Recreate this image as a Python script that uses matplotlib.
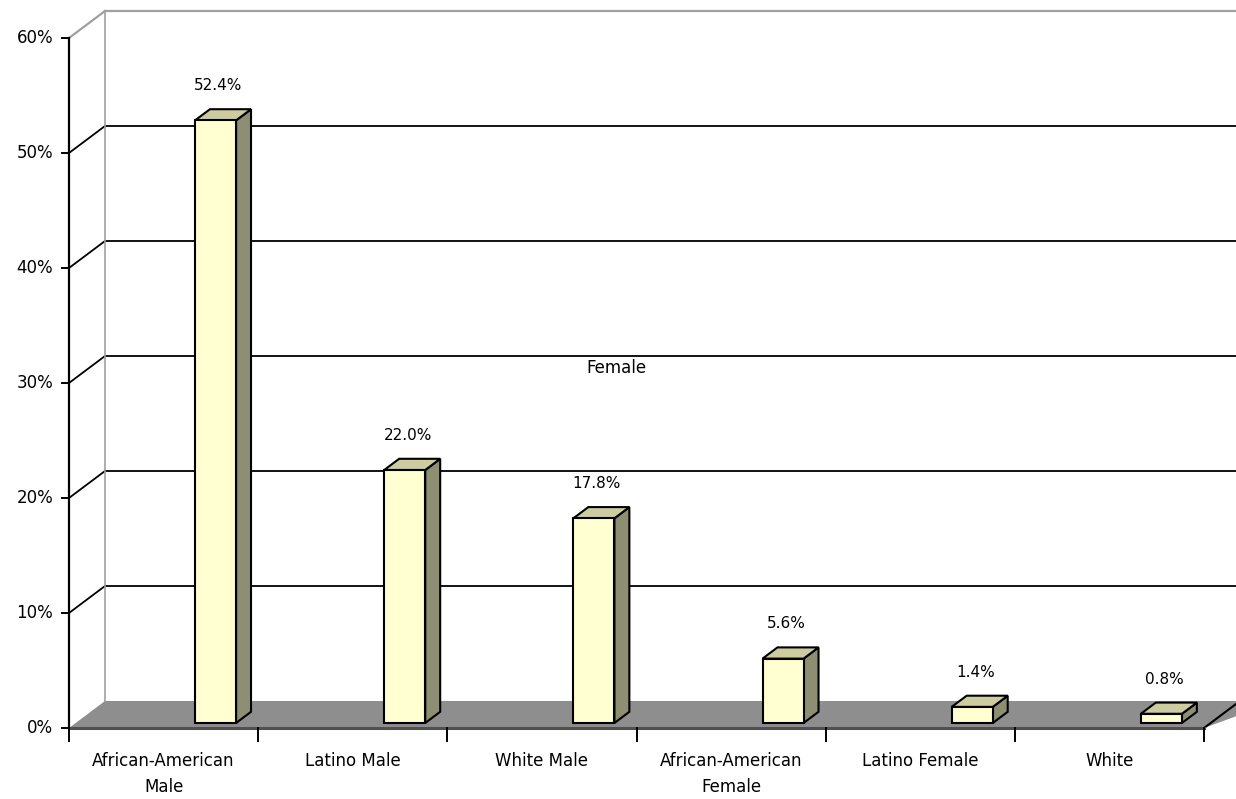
import matplotlib
matplotlib.use("Agg")
import matplotlib.pyplot as plt
from matplotlib.patches import Polygon

# ---- data ----
categories = ["African-American\nMale", "Latino Male", "White Male",
              "African-American\nFemale", "Latino Female", "White"]
values = [52.4, 22.0, 17.8, 5.6, 1.4, 0.8]
value_labels = ["52.4%", "22.0%", "17.8%", "5.6%", "1.4%", "0.8%"]
y_ticks = [0, 10, 20, 30, 40, 50, 60]
y_tick_labels = ["0%", "10%", "20%", "30%", "40%", "50%", "60%"]
stray_label = "Female"

# ---- geometry (data units: x = category slot, y = percent) ----
W, H, DPI = 12.36, 7.99, 100
PX_X = 189.17   # px per category
PX_Y = 11.5     # px per percent
X0_PX, Y0_PX = 69, 728
DX = 36 / PX_X  # depth offset in x
DY = 27 / PX_Y  # depth offset in y
D0, D1 = 0.185, 0.60   # bar front/back depth
BAR_L, BAR_R = 0.631, 0.848

def px_x(p):
    return p / PX_X

def px_y(p):
    return p / PX_Y

def proj(x, y, d):
    return (x + d * DX, y + d * DY)

fig = plt.figure(figsize=(W, H), dpi=DPI)
ax = fig.add_axes([0, 0, 1, 1])
ax.set_xlim(-X0_PX / PX_X, (1236 - X0_PX) / PX_X)
ax.set_ylim(-(799 - Y0_PX) / PX_Y, Y0_PX / PX_Y)
ax.axis("off")

n = len(categories)
ymax = y_ticks[-1]
FONT = dict(family="DejaVu Sans", fontsize=12, color="black")
VFONT = dict(family="DejaVu Sans", fontsize=11, color="black")

# back wall gridlines
for v in y_ticks[1:]:
    col = "#a0a0a0" if v == ymax else "black"
    lw = 1.6 if v == ymax else 1.3
    a = proj(0, v, 1)
    b = proj(n + 0.5, v, 1)
    ax.plot([a[0], b[0]], [a[1], b[1]], color=col, lw=lw, zorder=1)
    c = proj(0, v, 0)
    ax.plot([c[0], a[0]], [c[1], a[1]], color=col, lw=lw, zorder=1)

# left wall vertical
a = proj(0, 0, 1); b = proj(0, ymax, 1)
ax.plot([a[0], b[0]], [a[1], b[1]], color="#a0a0a0", lw=1.2, zorder=1)

# floor
floor = Polygon([proj(0, 0, 0), proj(n, 0, 0), proj(n + 0.2, 0, 1), proj(0, 0, 1)],
                closed=True, facecolor="#8e8e8e", edgecolor="none", zorder=2)
ax.add_patch(floor)
a = proj(n, 0, 0); b = proj(n, 0, 1)
ax.plot([a[0], b[0]], [a[1], b[1]], color="black", lw=1.5, zorder=3)

# front y axis
ax.plot([0, 0], [0, ymax], color="black", lw=1.6, zorder=5)
for v, lab in zip(y_ticks, y_tick_labels):
    ax.plot([-px_x(7), 0], [v, v], color="black", lw=1.4, zorder=5)
    ax.text(-px_x(16), v, lab, ha="right", va="center", **FONT)

# category axis
ax.plot([0, n], [0, 0], color="#505050", lw=2.2, zorder=5)
for i in range(n + 1):
    ax.plot([i, i], [0, -px_y(13)], color="black", lw=1.4, zorder=5)
for i, lab in enumerate(categories):
    ax.text(i + 0.5, -px_y(24), lab, ha="center", va="top",
            linespacing=1.6, **FONT)

# bars
for i, v in enumerate(values):
    xl, xr = i + BAR_L, i + BAR_R
    front = [proj(xl, 0, D0), proj(xr, 0, D0), proj(xr, v, D0), proj(xl, v, D0)]
    top = [proj(xl, v, D0), proj(xr, v, D0), proj(xr, v, D1), proj(xl, v, D1)]
    side = [proj(xr, 0, D0), proj(xr, 0, D1), proj(xr, v, D1), proj(xr, v, D0)]
    for pts, fc in ((side, "#8e8e72"), (top, "#cccca0"), (front, "#ffffd2")):
        ax.add_patch(Polygon(pts, closed=True, facecolor=fc, edgecolor="black",
                             lw=1.5, joinstyle="miter", zorder=6))
    cx, _ = proj((xl + xr) / 2, v, D0)
    _, cy = proj(xl, v, D1)
    ax.text(cx + px_x(3), cy + px_y(16), value_labels[i], ha="center",
            va="bottom", zorder=7, **VFONT)

# stray label
ax.text(px_x(616 - X0_PX), px_y(Y0_PX - 368), stray_label, ha="center",
        va="center", **FONT)

fig.savefig("out.png", dpi=DPI)
